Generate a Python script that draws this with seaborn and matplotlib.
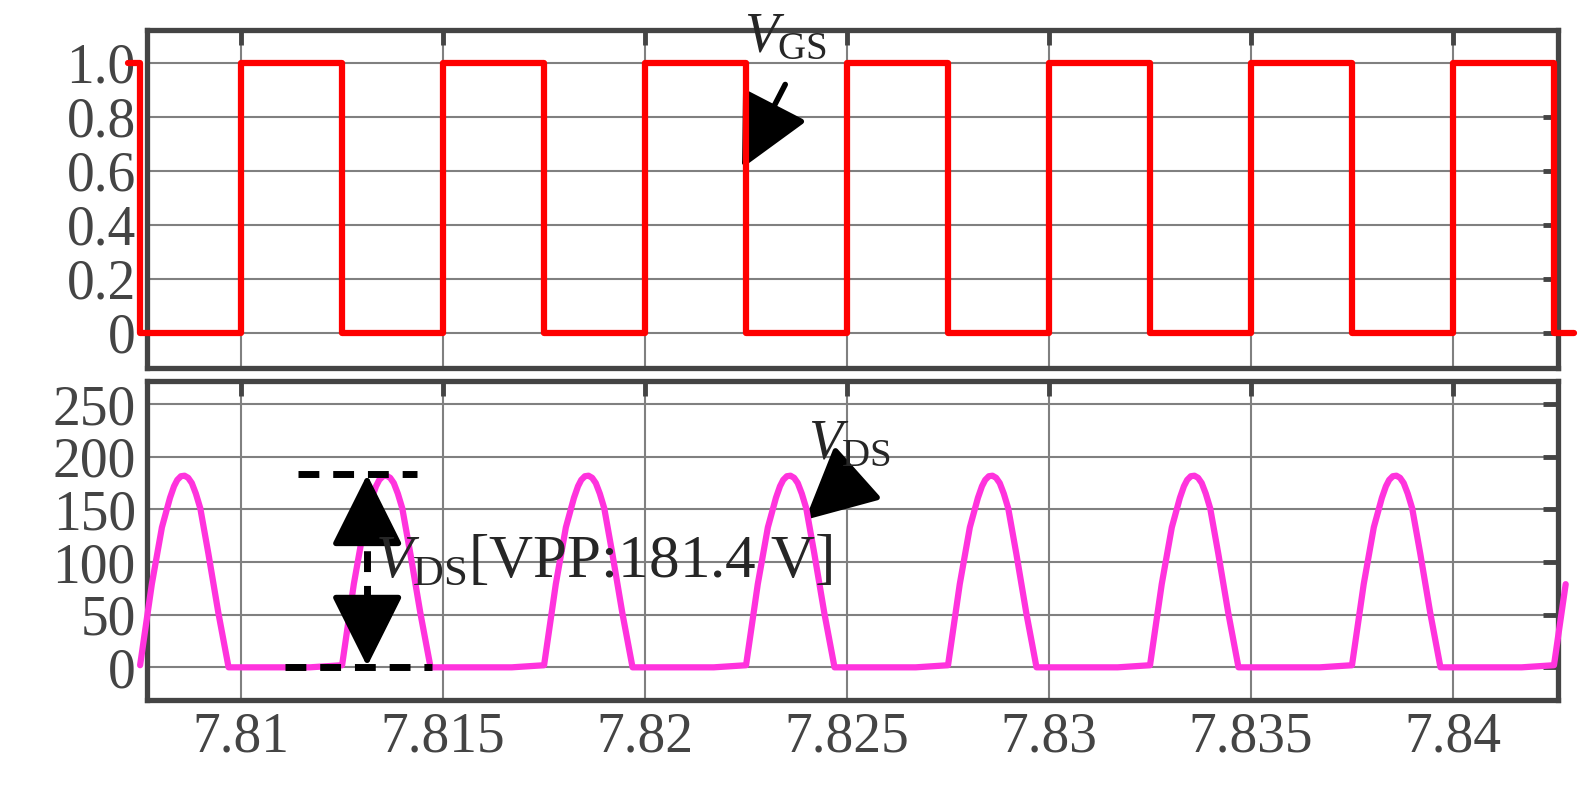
import matplotlib
matplotlib.use("Agg")
import matplotlib.pyplot as plt
import numpy as np
import pandas as pd
import seaborn as sns

# gate signal edges (s)
gate_rise = [7.81, 7.815, 7.82, 7.825, 7.83, 7.835, 7.84]
gate_fall = [7.8075, 7.8125, 7.8175, 7.8225, 7.8275, 7.8325, 7.8375, 7.8425]
gate_start, gate_end = 7.8072, 7.8430

# drain-source pulse: starts at each gate fall
vds_starts = [7.8075, 7.8125, 7.8175, 7.8225, 7.8275, 7.8325, 7.8375, 7.8425]
pulse_dt = [0, 0.00029, 0.00054, 0.00074, 0.00084, 0.00092, 0.00101, 0.00110,
            0.00119, 0.00128, 0.00138, 0.00149, 0.00169, 0.00194, 0.00219]
pulse_v = [2, 79, 133, 161, 172, 178, 181.5, 182, 180, 175, 165, 151, 108, 51, 0]

x_ticks = [7.81, 7.815, 7.82, 7.825, 7.83, 7.835, 7.84]
x_labels = ["7.81", "7.815", "7.82", "7.825", "7.83", "7.835", "7.84"]
top_ticks = [0, 0.2, 0.4, 0.6, 0.8, 1.0]
top_labels = ["0", "0.2", "0.4", "0.6", "0.8", "1.0"]
bot_ticks = [0, 50, 100, 150, 200, 250]

DARK = "#444444"
sns.set_style("white")
plt.rcParams["font.family"] = ["Liberation Serif", "DejaVu Serif"]
plt.rcParams["mathtext.fontset"] = "custom"
plt.rcParams["mathtext.rm"] = "Liberation Serif"
plt.rcParams["mathtext.it"] = "Liberation Serif:italic"

# build gate step trace
edges = sorted([(t, 1, 0) for t in gate_rise] + [(t, 0, 1) for t in gate_fall])
gt, gv = [gate_start], [1]
for t, a, b in edges:
    gt += [t, t]
    gv += [b, a]
gt.append(gate_end)
gv.append(gv[-1])
gate = pd.DataFrame({"t": gt, "v": gv})

# build VDS trace
vt, vv = [], []
for i, s in enumerate(vds_starts):
    n = 2 if i == len(vds_starts) - 1 else len(pulse_dt)
    if vt:
        vt.append(s - 0.0008)
        vv.append(0)
    vt += [s + d for d in pulse_dt[:n]]
    vv += pulse_v[:n]
vds = pd.DataFrame({"t": vt, "v": vv})

fig = plt.figure(figsize=(15.89, 7.92), dpi=100)
ax1 = fig.add_axes([0.0925, 0.5354, 0.888, 0.4268])
ax2 = fig.add_axes([0.0925, 0.1162, 0.888, 0.4028])

sns.lineplot(data=gate, x="t", y="v", ax=ax1, color="#ff0000", lw=4.5,
             sort=False, estimator=None, clip_on=False, zorder=5)
sns.lineplot(data=vds, x="t", y="v", ax=ax2, color="#ff33dd", lw=4.5,
             sort=False, estimator=None, clip_on=False, zorder=5)

for ax in (ax1, ax2):
    ax.set_xlim(7.80767, 7.8426)
    ax.set_xticks(x_ticks)
    ax.set_xlabel("")
    ax.set_ylabel("")
    ax.grid(True, color="#808080", lw=1.5)
    ax.tick_params(direction="in", length=11, width=3.5, color=DARK,
                   top=True, right=True, labelsize=40, labelcolor=DARK, pad=8)
    for sp in ax.spines.values():
        sp.set_linewidth(3.8)
        sp.set_color(DARK)

ax1.set_ylim(-0.13, 1.122)
ax1.set_yticks(top_ticks)
ax1.set_yticklabels(top_labels)
ax1.set_xticklabels([])
ax2.set_ylim(-31, 272)
ax2.set_yticks(bot_ticks)
ax2.set_xticklabels(x_labels)

arrow = dict(arrowstyle="-|>,head_length=0.9,head_width=0.45", mutation_scale=50,
             lw=4, color="black", shrinkA=0, shrinkB=0)
ax1.annotate("", xy=(7.8224, 0.61), xytext=(7.82347, 0.92), arrowprops=arrow)
ax1.text(7.82347, 1.09, r"$V_{\mathrm{GS}}$", fontsize=40, ha="center", va="center")
ax2.annotate("", xy=(7.82396, 140), xytext=(7.82507, 178), arrowprops=arrow)
ax2.text(7.82507, 211, r"$V_{\mathrm{DS}}$", fontsize=40, ha="center", va="center")

# peak-to-peak marker
ax2.plot([7.81141, 7.81436], [184, 184], ls=(0, (3, 2)), color="black", lw=5, zorder=6)
ax2.plot([7.81109, 7.81473], [0, 0], ls=(0, (3, 2)), color="black", lw=5, zorder=6)
ax2.plot([7.81312, 7.81312], [25, 160], ls=(0, (3, 2)), color="black", lw=5, zorder=6)
ax2.annotate("", xy=(7.81312, 183), xytext=(7.81312, 140), arrowprops=arrow, zorder=7)
ax2.annotate("", xy=(7.81312, 1), xytext=(7.81312, 45), arrowprops=arrow, zorder=7)
ax2.text(7.81332, 100, r"$V_{\mathrm{DS}}$[VPP:181.4 V]", fontsize=44,
         ha="left", va="center", zorder=8)

fig.savefig("out.png", dpi=100)
